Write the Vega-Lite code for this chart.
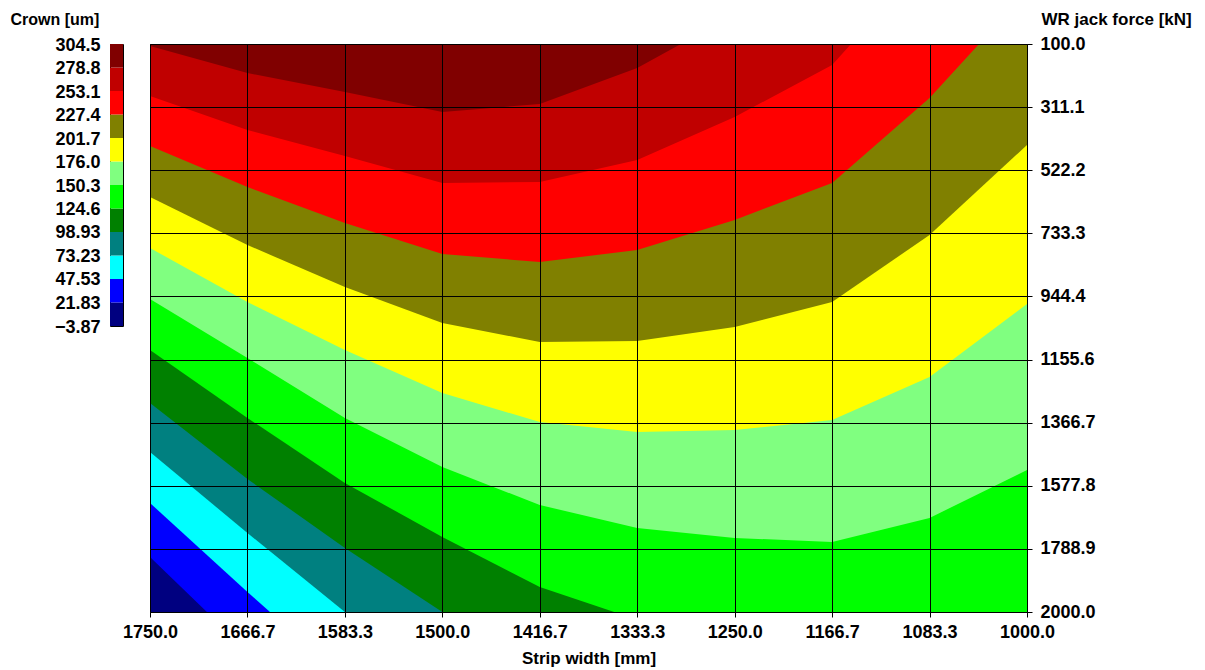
{
  "$schema": "https://vega.github.io/schema/vega-lite/v6.json",
  "background": "white",
  "padding": {"left": 9, "top": 9, "right": 0, "bottom": 0},
  "autosize": {"type": "pad"},
  "spacing": -3,
  "config": {
    "font": "Liberation Sans",
    "view": {"stroke": null},
    "axis": {
      "labelFont": "Liberation Sans",
      "labelFontWeight": "bold",
      "labelFontSize": 18,
      "labelColor": "#000",
      "titleFont": "Liberation Sans",
      "titleFontWeight": "bold",
      "titleFontSize": 17,
      "titleColor": "#000",
      "tickColor": "#000",
      "domain": false,
      "grid": false,
      "labelFlush": false,
      "labelOverlap": false
    }
  },
  "datasets": {
    "bands": [
      {"lo": -3.87, "hi": 21.83},
      {"lo": 21.83, "hi": 47.53},
      {"lo": 47.53, "hi": 73.23},
      {"lo": 73.23, "hi": 98.93},
      {"lo": 98.93, "hi": 124.6},
      {"lo": 124.6, "hi": 150.3},
      {"lo": 150.3, "hi": 176.0},
      {"lo": 176.0, "hi": 201.7},
      {"lo": 201.7, "hi": 227.4},
      {"lo": 227.4, "hi": 253.1},
      {"lo": 253.1, "hi": 278.8},
      {"lo": 278.8, "hi": 304.5}
    ],
    "contours": [
      {"crown": 21.83, "width": 1750, "force": 1816.0},
      {"crown": 21.83, "width": 1701.3, "force": 2000},
      {"crown": 21.83, "width": 1000, "force": 2000},

      {"crown": 47.53, "width": 1750, "force": 1635.5},
      {"crown": 47.53, "width": 1666.67, "force": 1933.1},
      {"crown": 47.53, "width": 1647.4, "force": 2000},
      {"crown": 47.53, "width": 1000, "force": 2000},

      {"crown": 73.23, "width": 1750, "force": 1464.8},
      {"crown": 73.23, "width": 1666.67, "force": 1735.8},
      {"crown": 73.23, "width": 1583.33, "force": 2000},
      {"crown": 73.23, "width": 1000, "force": 2000},

      {"crown": 98.93, "width": 1750, "force": 1300.9},
      {"crown": 98.93, "width": 1666.67, "force": 1555.1},
      {"crown": 98.93, "width": 1583.33, "force": 1785.9},
      {"crown": 98.93, "width": 1500, "force": 2000},
      {"crown": 98.93, "width": 1000, "force": 2000},

      {"crown": 124.6, "width": 1750, "force": 1123.6},
      {"crown": 124.6, "width": 1666.67, "force": 1351.0},
      {"crown": 124.6, "width": 1583.33, "force": 1568.5},
      {"crown": 124.6, "width": 1500, "force": 1749.1},
      {"crown": 124.6, "width": 1416.67, "force": 1916.4},
      {"crown": 124.6, "width": 1353, "force": 2000},
      {"crown": 124.6, "width": 1000, "force": 2000},

      {"crown": 150.3, "width": 1750, "force": 953.0},
      {"crown": 150.3, "width": 1666.67, "force": 1150.3},
      {"crown": 150.3, "width": 1583.33, "force": 1351.0},
      {"crown": 150.3, "width": 1500, "force": 1514.9},
      {"crown": 150.3, "width": 1416.67, "force": 1642.1},
      {"crown": 150.3, "width": 1333.33, "force": 1718.9},
      {"crown": 150.3, "width": 1250, "force": 1752.4},
      {"crown": 150.3, "width": 1166.67, "force": 1765.8},
      {"crown": 150.3, "width": 1083.33, "force": 1685.5},
      {"crown": 150.3, "width": 1000, "force": 1525.0},

      {"crown": 176.0, "width": 1750, "force": 782.4},
      {"crown": 176.0, "width": 1666.67, "force": 963.0},
      {"crown": 176.0, "width": 1583.33, "force": 1123.6},
      {"crown": 176.0, "width": 1500, "force": 1267.4},
      {"crown": 176.0, "width": 1416.67, "force": 1364.4},
      {"crown": 176.0, "width": 1333.33, "force": 1397.9},
      {"crown": 176.0, "width": 1250, "force": 1391.2},
      {"crown": 176.0, "width": 1166.67, "force": 1357.7},
      {"crown": 176.0, "width": 1083.33, "force": 1213.9},
      {"crown": 176.0, "width": 1000, "force": 969.7},

      {"crown": 201.7, "width": 1750, "force": 611.8},
      {"crown": 201.7, "width": 1666.67, "force": 772.4},
      {"crown": 201.7, "width": 1583.33, "force": 912.8},
      {"crown": 201.7, "width": 1500, "force": 1033.3},
      {"crown": 201.7, "width": 1416.67, "force": 1096.8},
      {"crown": 201.7, "width": 1333.33, "force": 1093.5},
      {"crown": 201.7, "width": 1250, "force": 1046.6},
      {"crown": 201.7, "width": 1166.67, "force": 963.0},
      {"crown": 201.7, "width": 1083.33, "force": 738.9},
      {"crown": 201.7, "width": 1000, "force": 437.8},

      {"crown": 227.4, "width": 1750, "force": 441.2},
      {"crown": 227.4, "width": 1666.67, "force": 578.3},
      {"crown": 227.4, "width": 1583.33, "force": 698.8},
      {"crown": 227.4, "width": 1500, "force": 802.5},
      {"crown": 227.4, "width": 1416.67, "force": 829.2},
      {"crown": 227.4, "width": 1333.33, "force": 789.1},
      {"crown": 227.4, "width": 1250, "force": 688.7},
      {"crown": 227.4, "width": 1166.67, "force": 565.0},
      {"crown": 227.4, "width": 1083.33, "force": 280.6},
      {"crown": 227.4, "width": 1041, "force": 100},

      {"crown": 253.1, "width": 1750, "force": 273.9},
      {"crown": 253.1, "width": 1666.67, "force": 387.7},
      {"crown": 253.1, "width": 1583.33, "force": 474.6},
      {"crown": 253.1, "width": 1500, "force": 565.0},
      {"crown": 253.1, "width": 1416.67, "force": 561.6},
      {"crown": 253.1, "width": 1333.33, "force": 488.0},
      {"crown": 253.1, "width": 1250, "force": 344.2},
      {"crown": 253.1, "width": 1166.67, "force": 170.2},
      {"crown": 253.1, "width": 1150.5, "force": 100},

      {"crown": 278.8, "width": 1750, "force": 106.7},
      {"crown": 278.8, "width": 1666.67, "force": 197.0},
      {"crown": 278.8, "width": 1583.33, "force": 260.6},
      {"crown": 278.8, "width": 1500, "force": 327.5},
      {"crown": 278.8, "width": 1416.67, "force": 300.7},
      {"crown": 278.8, "width": 1333.33, "force": 180.3},
      {"crown": 278.8, "width": 1296, "force": 100}
    ]
  },
  "hconcat": [
    {
      "width": 13,
      "height": 282,
      "data": {"name": "bands"},
      "view": {"stroke": "#000", "strokeWidth": 1},
      "mark": {"type": "rect"},
      "encoding": {
        "y": {
          "field": "lo",
          "type": "quantitative",
          "scale": {"domain": [-3.87, 304.5], "nice": false, "zero": false},
          "axis": {
            "orient": "left",
            "values": [-3.87, 21.83, 47.53, 73.23, 98.93, 124.6, 150.3, 176.0, 201.7, 227.4, 253.1, 278.8, 304.5],
            "labelExpr": "datum.value < 0 ? format(datum.value, '.2f') : format(datum.value, '.4r')",
            "ticks": false,
            "labelPadding": 10,
            "labelOffset": 1,
            "title": "Crown [um]",
            "titleFontSize": 16,
            "titleAngle": 0,
            "titleAlign": "left",
            "titleBaseline": "middle",
            "titleX": -100,
            "titleY": -25
          }
        },
        "y2": {"field": "hi"},
        "color": {
          "field": "lo",
          "type": "ordinal",
          "scale": {
            "domain": [-3.87, 21.83, 47.53, 73.23, 98.93, 124.6, 150.3, 176.0, 201.7, 227.4, 253.1, 278.8],
            "range": ["#000080", "#0000FF", "#00FFFF", "#008080", "#008000", "#00FF00", "#80FF80", "#FFFF00", "#808000", "#FF0000", "#C00000", "#800000"]
          },
          "legend": null
        }
      }
    },
    {
      "width": 877,
      "height": 568,
      "data": {"name": "contours"},
      "view": {"fill": "#000080", "stroke": "#222", "strokeWidth": 1},
      "encoding": {
        "x": {
          "field": "width",
          "type": "quantitative",
          "scale": {"domain": [1000, 1750], "reverse": true, "nice": false, "zero": false},
          "axis": {
            "values": [1750, 1666.67, 1583.33, 1500, 1416.67, 1333.33, 1250, 1166.67, 1083.33, 1000],
            "format": ".1f",
            "grid": true,
            "gridColor": "#000",
            "gridOpacity": 1,
            "gridWidth": 1,
            "tickSize": 5,
            "labelPadding": 6,
            "title": "Strip width [mm]",
            "titlePadding": 9,
            "zindex": 1
          }
        },
        "y": {
          "field": "force",
          "type": "quantitative",
          "scale": {"domain": [100, 2000], "reverse": true, "nice": false, "zero": false},
          "axis": {
            "orient": "right",
            "values": [100, 311.11, 522.22, 733.33, 944.44, 1155.56, 1366.67, 1577.78, 1788.89, 2000],
            "format": ".1f",
            "grid": true,
            "gridColor": "#000",
            "gridOpacity": 1,
            "gridWidth": 1,
            "tickSize": 5,
            "labelPadding": 8,
            "title": "WR jack force [kN]",
            "titleAngle": 0,
            "titleAlign": "left",
            "titleBaseline": "middle",
            "titleX": 14,
            "titleY": -25,
            "zindex": 1
          }
        },
        "y2": {"datum": 100}
      },
      "layer": [
        {"transform": [{"filter": "datum.crown == 21.83"}], "mark": {"type": "area", "color": "#0000FF", "opacity": 1, "clip": true}, "encoding": {}},
        {"transform": [{"filter": "datum.crown == 47.53"}], "mark": {"type": "area", "color": "#00FFFF", "opacity": 1, "clip": true}, "encoding": {}},
        {"transform": [{"filter": "datum.crown == 73.23"}], "mark": {"type": "area", "color": "#008080", "opacity": 1, "clip": true}, "encoding": {}},
        {"transform": [{"filter": "datum.crown == 98.93"}], "mark": {"type": "area", "color": "#008000", "opacity": 1, "clip": true}, "encoding": {}},
        {"transform": [{"filter": "datum.crown == 124.6"}], "mark": {"type": "area", "color": "#00FF00", "opacity": 1, "clip": true}, "encoding": {}},
        {"transform": [{"filter": "datum.crown == 150.3"}], "mark": {"type": "area", "color": "#80FF80", "opacity": 1, "clip": true}, "encoding": {}},
        {"transform": [{"filter": "datum.crown == 176.0"}], "mark": {"type": "area", "color": "#FFFF00", "opacity": 1, "clip": true}, "encoding": {}},
        {"transform": [{"filter": "datum.crown == 201.7"}], "mark": {"type": "area", "color": "#808000", "opacity": 1, "clip": true}, "encoding": {}},
        {"transform": [{"filter": "datum.crown == 227.4"}], "mark": {"type": "area", "color": "#FF0000", "opacity": 1, "clip": true}, "encoding": {}},
        {"transform": [{"filter": "datum.crown == 253.1"}], "mark": {"type": "area", "color": "#C00000", "opacity": 1, "clip": true}, "encoding": {}},
        {"transform": [{"filter": "datum.crown == 278.8"}], "mark": {"type": "area", "color": "#800000", "opacity": 1, "clip": true}, "encoding": {}}
      ]
    }
  ]
}
